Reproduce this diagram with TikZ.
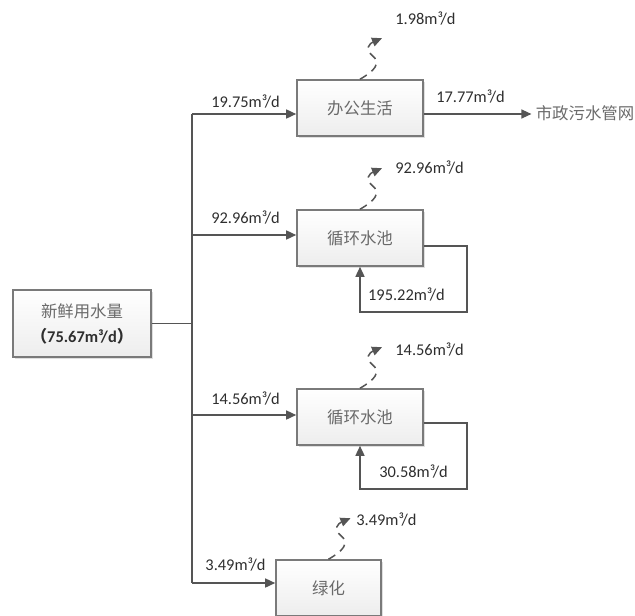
\documentclass[tikz,border=0pt]{standalone}
\usepackage{fontspec}
\setmainfont{Carlito}
\newfontfamily\cjk{Noto Sans CJK SC}
\usetikzlibrary{arrows.meta,shadows}

\definecolor{linegray}{HTML}{555555}
\definecolor{boxgray}{HTML}{7A7A7A}
\definecolor{cjkgray}{HTML}{6A6A6A}
\definecolor{numgray}{HTML}{2E2E2E}

\newcommand{\vapour}[2]{
    \begin{scope}[shift={(#1.north)}]
        \draw[lossline] (0,0) .. controls (14,8) and (22,16) .. (12,24)
            .. controls (4,30) and (10,36) .. (22,41) coordinate (#2);
    \end{scope}
}
\tikzset{x=0.5pt, y=0.5pt, every node/.append style={font=\fontsize{8.2}{12.5}\selectfont}}
\tikzset{
    box/.style={draw=boxgray, line width=0.8pt, top color=white, bottom color=gray!14,
        drop shadow={opacity=0.25, shadow xshift=1pt, shadow yshift=-1pt},
        minimum width=63pt, minimum height=28pt, text=cjkgray,
        font=\cjk\fontsize{8.2}{12.5}\selectfont},
    pipe/.style={draw=linegray, line width=0.75pt},
    flow/.style={pipe, -{Triangle[length=5pt,width=4.5pt]}},
    lossline/.style={flow, dash pattern=on 4pt off 3pt},
    qty/.style={text=numgray, inner sep=1pt}
}

\begin{document}
\begin{tikzpicture}
    \useasboundingbox (0,0) rectangle (635,-615);
    % boxes
    \node[box, minimum width=69pt, minimum height=33.5pt, align=center] (fresh) at (82,-323.5)
        {新鲜用水量\\{\normalfont\bfseries\color{numgray}{\cjk （}75.67m³/d{\cjk ）}}};
    \node[box] (office) at (360,-108) {办公生活};
    \node[box] (pool1) at (360,-238) {循环水池};
    \node[box] (pool2) at (360,-417) {循环水池};
    \node[box, minimum width=52.5pt] (green) at (328.5,-588) {绿化};
    \node[text=cjkgray, font=\cjk\fontsize{8.2}{10}\selectfont, inner sep=2pt] (sewer) at (585,-113) {市政污水管网};

    % main pipe
    \coordinate (split) at (192,-323.5);
    \coordinate (b1) at (192,-114);
    \coordinate (b2) at (192,-235);
    \coordinate (b3) at (192,-415);
    \coordinate (b4) at (192,-583);
    \draw[pipe] (fresh.east) -- (split);
    \draw[pipe] (b1) -- (b4);
    \draw[flow] (b1) -- (b1 -| office.west);
    \draw[flow] (b2) -- (b2 -| pool1.west);
    \draw[flow] (b3) -- (b3 -| pool2.west);
    \draw[flow] (b4) -- (b4 -| green.west);
    \node[qty] (in1) at (245.5,-102) {19.75m³/d};
    \node[qty] (in2) at (245.5,-218) {92.96m³/d};
    \node[qty] (in3) at (245.5,-399) {14.56m³/d};
    \node[qty] (in4) at (235.5,-565) {3.49m³/d};

    % outflow and loops
    \draw[flow] (office.east |- b1) -- (sewer.west |- b1);
    \node[qty] (out1) at (470.5,-97) {17.77m³/d};
    \draw[flow] ([yshift=-4pt]pool1.east) -- ++(43,0) -- ++(0,-66) -| (pool1.south);
    \node[qty] (back1) at (406.5,-295) {195.22m³/d};
    \draw[flow] ([yshift=-3pt]pool2.east) -- ++(43,0) -- ++(0,-66) -| (pool2.south);
    \node[qty] (back2) at (413.5,-472) {30.58m³/d};

    % losses
    \vapour{office}{v1}
    \vapour{pool1}{v2}
    \vapour{pool2}{v3}
    \vapour{green}{v4}
    \node[qty, anchor=west] (loss1) at (393,-19) {1.98m³/d};
    \node[qty, anchor=west] (loss2) at (393,-168) {92.96m³/d};
    \node[qty, anchor=west] (loss3) at (393,-350) {14.56m³/d};
    \node[qty, anchor=west] (loss4) at (354,-520) {3.49m³/d};
\end{tikzpicture}
\end{document}
